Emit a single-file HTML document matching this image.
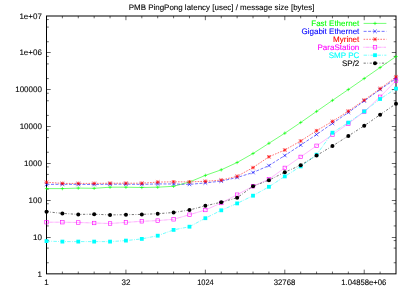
<!DOCTYPE html>
<html><head><meta charset="utf-8"><title>PMB PingPong latency</title>
<style>
html,body{margin:0;padding:0;background:#fff;}
body{width:409px;height:286px;overflow:hidden;}
svg{display:block;}
text{font-family:"Liberation Sans",sans-serif;font-size:8.0px;fill:#000;stroke:#000;stroke-width:0.1px;text-rendering:geometricPrecision;}
</style></head><body>
<svg width="409" height="286" viewBox="0 0 409 286">
<defs><filter id="gs" x="0" y="0" width="409" height="286" filterUnits="userSpaceOnUse"><feOffset dx="0" dy="0"/></filter></defs>
<rect x="0" y="0" width="409" height="286" fill="#fff"/>

<rect x="46.5" y="16.0" width="349.50" height="257.85" fill="none" stroke="#000" stroke-width="1"/>
<path d="M62.39 273.85v-2.3M62.39 16.0v2.3M78.27 273.85v-2.3M78.27 16.0v2.3M94.16 273.85v-2.3M94.16 16.0v2.3M110.05 273.85v-2.3M110.05 16.0v2.3M125.93 273.85v-4.2M125.93 16.0v4.2M141.82 273.85v-2.3M141.82 16.0v2.3M157.70 273.85v-2.3M157.70 16.0v2.3M173.59 273.85v-2.3M173.59 16.0v2.3M189.48 273.85v-2.3M189.48 16.0v2.3M205.36 273.85v-4.2M205.36 16.0v4.2M221.25 273.85v-2.3M221.25 16.0v2.3M237.14 273.85v-2.3M237.14 16.0v2.3M253.02 273.85v-2.3M253.02 16.0v2.3M268.91 273.85v-2.3M268.91 16.0v2.3M284.80 273.85v-4.2M284.80 16.0v4.2M300.68 273.85v-2.3M300.68 16.0v2.3M316.57 273.85v-2.3M316.57 16.0v2.3M332.45 273.85v-2.3M332.45 16.0v2.3M348.34 273.85v-2.3M348.34 16.0v2.3M364.23 273.85v-4.2M364.23 16.0v4.2M380.11 273.85v-2.3M380.11 16.0v2.3M46.5 262.76h2.3M396.0 262.76h-2.3M46.5 248.10h2.3M396.0 248.10h-2.3M46.5 240.58h2.3M396.0 240.58h-2.3M46.5 237.50h4.2M396.0 237.50h-4.2M46.5 225.93h2.3M396.0 225.93h-2.3M46.5 211.27h2.3M396.0 211.27h-2.3M46.5 203.75h2.3M396.0 203.75h-2.3M46.5 200.50h4.2M396.0 200.50h-4.2M46.5 189.09h2.3M396.0 189.09h-2.3M46.5 174.43h2.3M396.0 174.43h-2.3M46.5 166.91h2.3M396.0 166.91h-2.3M46.5 163.50h4.2M396.0 163.50h-4.2M46.5 152.25h2.3M396.0 152.25h-2.3M46.5 137.60h2.3M396.0 137.60h-2.3M46.5 130.08h2.3M396.0 130.08h-2.3M46.5 126.50h4.2M396.0 126.50h-4.2M46.5 115.42h2.3M396.0 115.42h-2.3M46.5 100.76h2.3M396.0 100.76h-2.3M46.5 93.24h2.3M396.0 93.24h-2.3M46.5 89.50h4.2M396.0 89.50h-4.2M46.5 78.58h2.3M396.0 78.58h-2.3M46.5 63.92h2.3M396.0 63.92h-2.3M46.5 56.41h2.3M396.0 56.41h-2.3M46.5 52.50h4.2M396.0 52.50h-4.2M46.5 41.75h2.3M396.0 41.75h-2.3M46.5 27.09h2.3M396.0 27.09h-2.3M46.5 19.57h2.3M396.0 19.57h-2.3" stroke="#000" stroke-width="0.6" fill="none"/>
<polyline points="46.50,188.60 62.39,188.60 78.27,188.10 94.16,188.30 110.05,187.20 125.93,187.20 141.82,187.50 157.70,187.20 173.59,186.30 189.48,182.00 205.36,175.40 221.25,169.80 237.14,162.50 253.02,153.50 268.91,143.30 284.80,133.20 300.68,122.50 316.57,111.40 332.45,100.40 348.34,89.50 364.23,78.50 380.11,67.50 396.00,56.50" fill="none" stroke="#00ff00" stroke-width="0.55"/>
<path d="M44.80 188.60H48.20M46.50 186.90V190.30" stroke="#00ff00" stroke-width="0.6" fill="none"/>
<path d="M60.69 188.60H64.09M62.39 186.90V190.30" stroke="#00ff00" stroke-width="0.6" fill="none"/>
<path d="M76.57 188.10H79.97M78.27 186.40V189.80" stroke="#00ff00" stroke-width="0.6" fill="none"/>
<path d="M92.46 188.30H95.86M94.16 186.60V190.00" stroke="#00ff00" stroke-width="0.6" fill="none"/>
<path d="M108.35 187.20H111.75M110.05 185.50V188.90" stroke="#00ff00" stroke-width="0.6" fill="none"/>
<path d="M124.23 187.20H127.63M125.93 185.50V188.90" stroke="#00ff00" stroke-width="0.6" fill="none"/>
<path d="M140.12 187.50H143.52M141.82 185.80V189.20" stroke="#00ff00" stroke-width="0.6" fill="none"/>
<path d="M156.00 187.20H159.40M157.70 185.50V188.90" stroke="#00ff00" stroke-width="0.6" fill="none"/>
<path d="M171.89 186.30H175.29M173.59 184.60V188.00" stroke="#00ff00" stroke-width="0.6" fill="none"/>
<path d="M187.78 182.00H191.18M189.48 180.30V183.70" stroke="#00ff00" stroke-width="0.6" fill="none"/>
<path d="M203.66 175.40H207.06M205.36 173.70V177.10" stroke="#00ff00" stroke-width="0.6" fill="none"/>
<path d="M219.55 169.80H222.95M221.25 168.10V171.50" stroke="#00ff00" stroke-width="0.6" fill="none"/>
<path d="M235.44 162.50H238.84M237.14 160.80V164.20" stroke="#00ff00" stroke-width="0.6" fill="none"/>
<path d="M251.32 153.50H254.72M253.02 151.80V155.20" stroke="#00ff00" stroke-width="0.6" fill="none"/>
<path d="M267.21 143.30H270.61M268.91 141.60V145.00" stroke="#00ff00" stroke-width="0.6" fill="none"/>
<path d="M283.10 133.20H286.50M284.80 131.50V134.90" stroke="#00ff00" stroke-width="0.6" fill="none"/>
<path d="M298.98 122.50H302.38M300.68 120.80V124.20" stroke="#00ff00" stroke-width="0.6" fill="none"/>
<path d="M314.87 111.40H318.27M316.57 109.70V113.10" stroke="#00ff00" stroke-width="0.6" fill="none"/>
<path d="M330.75 100.40H334.15M332.45 98.70V102.10" stroke="#00ff00" stroke-width="0.6" fill="none"/>
<path d="M346.64 89.50H350.04M348.34 87.80V91.20" stroke="#00ff00" stroke-width="0.6" fill="none"/>
<path d="M362.53 78.50H365.93M364.23 76.80V80.20" stroke="#00ff00" stroke-width="0.6" fill="none"/>
<path d="M378.41 67.50H381.81M380.11 65.80V69.20" stroke="#00ff00" stroke-width="0.6" fill="none"/>
<path d="M394.30 56.50H397.70M396.00 54.80V58.20" stroke="#00ff00" stroke-width="0.6" fill="none"/>
<polyline points="46.50,184.40 62.39,184.30 78.27,184.40 94.16,184.50 110.05,184.20 125.93,184.20 141.82,184.40 157.70,183.90 173.59,184.00 189.48,184.40 205.36,182.90 221.25,181.10 237.14,177.50 253.02,172.50 268.91,165.60 284.80,155.50 300.68,145.10 316.57,134.50 332.45,123.40 348.34,112.50 364.23,101.00 380.11,89.50 396.00,78.50" fill="none" stroke="#0000ff" stroke-width="0.55" stroke-dasharray="3 1.5"/>
<path d="M44.70 182.60L48.30 186.20M44.70 186.20L48.30 182.60" stroke="#0000ff" stroke-width="0.6" fill="none"/>
<path d="M60.59 182.50L64.19 186.10M60.59 186.10L64.19 182.50" stroke="#0000ff" stroke-width="0.6" fill="none"/>
<path d="M76.47 182.60L80.07 186.20M76.47 186.20L80.07 182.60" stroke="#0000ff" stroke-width="0.6" fill="none"/>
<path d="M92.36 182.70L95.96 186.30M92.36 186.30L95.96 182.70" stroke="#0000ff" stroke-width="0.6" fill="none"/>
<path d="M108.25 182.40L111.85 186.00M108.25 186.00L111.85 182.40" stroke="#0000ff" stroke-width="0.6" fill="none"/>
<path d="M124.13 182.40L127.73 186.00M124.13 186.00L127.73 182.40" stroke="#0000ff" stroke-width="0.6" fill="none"/>
<path d="M140.02 182.60L143.62 186.20M140.02 186.20L143.62 182.60" stroke="#0000ff" stroke-width="0.6" fill="none"/>
<path d="M155.90 182.10L159.50 185.70M155.90 185.70L159.50 182.10" stroke="#0000ff" stroke-width="0.6" fill="none"/>
<path d="M171.79 182.20L175.39 185.80M171.79 185.80L175.39 182.20" stroke="#0000ff" stroke-width="0.6" fill="none"/>
<path d="M187.68 182.60L191.28 186.20M187.68 186.20L191.28 182.60" stroke="#0000ff" stroke-width="0.6" fill="none"/>
<path d="M203.56 181.10L207.16 184.70M203.56 184.70L207.16 181.10" stroke="#0000ff" stroke-width="0.6" fill="none"/>
<path d="M219.45 179.30L223.05 182.90M219.45 182.90L223.05 179.30" stroke="#0000ff" stroke-width="0.6" fill="none"/>
<path d="M235.34 175.70L238.94 179.30M235.34 179.30L238.94 175.70" stroke="#0000ff" stroke-width="0.6" fill="none"/>
<path d="M251.22 170.70L254.82 174.30M251.22 174.30L254.82 170.70" stroke="#0000ff" stroke-width="0.6" fill="none"/>
<path d="M267.11 163.80L270.71 167.40M267.11 167.40L270.71 163.80" stroke="#0000ff" stroke-width="0.6" fill="none"/>
<path d="M283.00 153.70L286.60 157.30M283.00 157.30L286.60 153.70" stroke="#0000ff" stroke-width="0.6" fill="none"/>
<path d="M298.88 143.30L302.48 146.90M298.88 146.90L302.48 143.30" stroke="#0000ff" stroke-width="0.6" fill="none"/>
<path d="M314.77 132.70L318.37 136.30M314.77 136.30L318.37 132.70" stroke="#0000ff" stroke-width="0.6" fill="none"/>
<path d="M330.65 121.60L334.25 125.20M330.65 125.20L334.25 121.60" stroke="#0000ff" stroke-width="0.6" fill="none"/>
<path d="M346.54 110.70L350.14 114.30M346.54 114.30L350.14 110.70" stroke="#0000ff" stroke-width="0.6" fill="none"/>
<path d="M362.43 99.20L366.03 102.80M362.43 102.80L366.03 99.20" stroke="#0000ff" stroke-width="0.6" fill="none"/>
<path d="M378.31 87.70L381.91 91.30M378.31 91.30L381.91 87.70" stroke="#0000ff" stroke-width="0.6" fill="none"/>
<path d="M394.20 76.70L397.80 80.30M394.20 80.30L397.80 76.70" stroke="#0000ff" stroke-width="0.6" fill="none"/>
<polyline points="46.50,182.20 62.39,183.40 78.27,183.40 94.16,183.40 110.05,183.20 125.93,183.20 141.82,183.20 157.70,182.10 173.59,181.80 189.48,181.90 205.36,181.30 221.25,180.10 237.14,176.30 253.02,167.60 268.91,156.80 284.80,150.00 300.68,141.00 316.57,130.70 332.45,121.40 348.34,111.10 364.23,100.10 380.11,88.60 396.00,76.90" fill="none" stroke="#ff0000" stroke-width="0.55" stroke-dasharray="1.6 1.2"/>
<path d="M44.70 180.40L48.30 184.00M44.70 184.00L48.30 180.40M44.70 182.20H48.30M46.50 180.40V184.00" stroke="#ff0000" stroke-width="0.6" fill="none"/>
<path d="M60.59 181.60L64.19 185.20M60.59 185.20L64.19 181.60M60.59 183.40H64.19M62.39 181.60V185.20" stroke="#ff0000" stroke-width="0.6" fill="none"/>
<path d="M76.47 181.60L80.07 185.20M76.47 185.20L80.07 181.60M76.47 183.40H80.07M78.27 181.60V185.20" stroke="#ff0000" stroke-width="0.6" fill="none"/>
<path d="M92.36 181.60L95.96 185.20M92.36 185.20L95.96 181.60M92.36 183.40H95.96M94.16 181.60V185.20" stroke="#ff0000" stroke-width="0.6" fill="none"/>
<path d="M108.25 181.40L111.85 185.00M108.25 185.00L111.85 181.40M108.25 183.20H111.85M110.05 181.40V185.00" stroke="#ff0000" stroke-width="0.6" fill="none"/>
<path d="M124.13 181.40L127.73 185.00M124.13 185.00L127.73 181.40M124.13 183.20H127.73M125.93 181.40V185.00" stroke="#ff0000" stroke-width="0.6" fill="none"/>
<path d="M140.02 181.40L143.62 185.00M140.02 185.00L143.62 181.40M140.02 183.20H143.62M141.82 181.40V185.00" stroke="#ff0000" stroke-width="0.6" fill="none"/>
<path d="M155.90 180.30L159.50 183.90M155.90 183.90L159.50 180.30M155.90 182.10H159.50M157.70 180.30V183.90" stroke="#ff0000" stroke-width="0.6" fill="none"/>
<path d="M171.79 180.00L175.39 183.60M171.79 183.60L175.39 180.00M171.79 181.80H175.39M173.59 180.00V183.60" stroke="#ff0000" stroke-width="0.6" fill="none"/>
<path d="M187.68 180.10L191.28 183.70M187.68 183.70L191.28 180.10M187.68 181.90H191.28M189.48 180.10V183.70" stroke="#ff0000" stroke-width="0.6" fill="none"/>
<path d="M203.56 179.50L207.16 183.10M203.56 183.10L207.16 179.50M203.56 181.30H207.16M205.36 179.50V183.10" stroke="#ff0000" stroke-width="0.6" fill="none"/>
<path d="M219.45 178.30L223.05 181.90M219.45 181.90L223.05 178.30M219.45 180.10H223.05M221.25 178.30V181.90" stroke="#ff0000" stroke-width="0.6" fill="none"/>
<path d="M235.34 174.50L238.94 178.10M235.34 178.10L238.94 174.50M235.34 176.30H238.94M237.14 174.50V178.10" stroke="#ff0000" stroke-width="0.6" fill="none"/>
<path d="M251.22 165.80L254.82 169.40M251.22 169.40L254.82 165.80M251.22 167.60H254.82M253.02 165.80V169.40" stroke="#ff0000" stroke-width="0.6" fill="none"/>
<path d="M267.11 155.00L270.71 158.60M267.11 158.60L270.71 155.00M267.11 156.80H270.71M268.91 155.00V158.60" stroke="#ff0000" stroke-width="0.6" fill="none"/>
<path d="M283.00 148.20L286.60 151.80M283.00 151.80L286.60 148.20M283.00 150.00H286.60M284.80 148.20V151.80" stroke="#ff0000" stroke-width="0.6" fill="none"/>
<path d="M298.88 139.20L302.48 142.80M298.88 142.80L302.48 139.20M298.88 141.00H302.48M300.68 139.20V142.80" stroke="#ff0000" stroke-width="0.6" fill="none"/>
<path d="M314.77 128.90L318.37 132.50M314.77 132.50L318.37 128.90M314.77 130.70H318.37M316.57 128.90V132.50" stroke="#ff0000" stroke-width="0.6" fill="none"/>
<path d="M330.65 119.60L334.25 123.20M330.65 123.20L334.25 119.60M330.65 121.40H334.25M332.45 119.60V123.20" stroke="#ff0000" stroke-width="0.6" fill="none"/>
<path d="M346.54 109.30L350.14 112.90M346.54 112.90L350.14 109.30M346.54 111.10H350.14M348.34 109.30V112.90" stroke="#ff0000" stroke-width="0.6" fill="none"/>
<path d="M362.43 98.30L366.03 101.90M362.43 101.90L366.03 98.30M362.43 100.10H366.03M364.23 98.30V101.90" stroke="#ff0000" stroke-width="0.6" fill="none"/>
<path d="M378.31 86.80L381.91 90.40M378.31 90.40L381.91 86.80M378.31 88.60H381.91M380.11 86.80V90.40" stroke="#ff0000" stroke-width="0.6" fill="none"/>
<path d="M394.20 75.10L397.80 78.70M394.20 78.70L397.80 75.10M394.20 76.90H397.80M396.00 75.10V78.70" stroke="#ff0000" stroke-width="0.6" fill="none"/>
<polyline points="46.50,222.20 62.39,222.20 78.27,222.50 94.16,223.00 110.05,223.50 125.93,222.40 141.82,221.30 157.70,220.60 173.59,219.30 189.48,214.70 205.36,210.00 221.25,203.00 237.14,194.70 253.02,186.20 268.91,179.30 284.80,167.90 300.68,156.90 316.57,145.80 332.45,134.80 348.34,123.60 364.23,111.70 380.11,96.80 396.00,80.70" fill="none" stroke="#ff00ff" stroke-width="0.55" stroke-dasharray="0.6 0.6"/>
<rect x="44.75" y="220.45" width="3.50" height="3.50" stroke="#ff00ff" stroke-width="0.6" fill="none"/>
<rect x="60.64" y="220.45" width="3.50" height="3.50" stroke="#ff00ff" stroke-width="0.6" fill="none"/>
<rect x="76.52" y="220.75" width="3.50" height="3.50" stroke="#ff00ff" stroke-width="0.6" fill="none"/>
<rect x="92.41" y="221.25" width="3.50" height="3.50" stroke="#ff00ff" stroke-width="0.6" fill="none"/>
<rect x="108.30" y="221.75" width="3.50" height="3.50" stroke="#ff00ff" stroke-width="0.6" fill="none"/>
<rect x="124.18" y="220.65" width="3.50" height="3.50" stroke="#ff00ff" stroke-width="0.6" fill="none"/>
<rect x="140.07" y="219.55" width="3.50" height="3.50" stroke="#ff00ff" stroke-width="0.6" fill="none"/>
<rect x="155.95" y="218.85" width="3.50" height="3.50" stroke="#ff00ff" stroke-width="0.6" fill="none"/>
<rect x="171.84" y="217.55" width="3.50" height="3.50" stroke="#ff00ff" stroke-width="0.6" fill="none"/>
<rect x="187.73" y="212.95" width="3.50" height="3.50" stroke="#ff00ff" stroke-width="0.6" fill="none"/>
<rect x="203.61" y="208.25" width="3.50" height="3.50" stroke="#ff00ff" stroke-width="0.6" fill="none"/>
<rect x="219.50" y="201.25" width="3.50" height="3.50" stroke="#ff00ff" stroke-width="0.6" fill="none"/>
<rect x="235.39" y="192.95" width="3.50" height="3.50" stroke="#ff00ff" stroke-width="0.6" fill="none"/>
<rect x="251.27" y="184.45" width="3.50" height="3.50" stroke="#ff00ff" stroke-width="0.6" fill="none"/>
<rect x="267.16" y="177.55" width="3.50" height="3.50" stroke="#ff00ff" stroke-width="0.6" fill="none"/>
<rect x="283.05" y="166.15" width="3.50" height="3.50" stroke="#ff00ff" stroke-width="0.6" fill="none"/>
<rect x="298.93" y="155.15" width="3.50" height="3.50" stroke="#ff00ff" stroke-width="0.6" fill="none"/>
<rect x="314.82" y="144.05" width="3.50" height="3.50" stroke="#ff00ff" stroke-width="0.6" fill="none"/>
<rect x="330.70" y="133.05" width="3.50" height="3.50" stroke="#ff00ff" stroke-width="0.6" fill="none"/>
<rect x="346.59" y="121.85" width="3.50" height="3.50" stroke="#ff00ff" stroke-width="0.6" fill="none"/>
<rect x="362.48" y="109.95" width="3.50" height="3.50" stroke="#ff00ff" stroke-width="0.6" fill="none"/>
<rect x="378.36" y="95.05" width="3.50" height="3.50" stroke="#ff00ff" stroke-width="0.6" fill="none"/>
<rect x="394.25" y="78.95" width="3.50" height="3.50" stroke="#ff00ff" stroke-width="0.6" fill="none"/>
<polyline points="46.50,241.10 62.39,241.60 78.27,241.60 94.16,241.60 110.05,241.60 125.93,240.60 141.82,238.90 157.70,235.70 173.59,229.90 189.48,226.70 205.36,218.20 221.25,210.30 237.14,203.40 253.02,195.70 268.91,186.80 284.80,176.40 300.68,166.40 316.57,154.70 332.45,132.70 348.34,122.60 364.23,111.40 380.11,99.00 396.00,88.60" fill="none" stroke="#00ffff" stroke-width="0.55" stroke-dasharray="3.5 1.3 0.8 1.3"/>
<rect x="44.60" y="239.20" width="3.80" height="3.80" fill="#00ffff"/>
<rect x="60.49" y="239.70" width="3.80" height="3.80" fill="#00ffff"/>
<rect x="76.37" y="239.70" width="3.80" height="3.80" fill="#00ffff"/>
<rect x="92.26" y="239.70" width="3.80" height="3.80" fill="#00ffff"/>
<rect x="108.15" y="239.70" width="3.80" height="3.80" fill="#00ffff"/>
<rect x="124.03" y="238.70" width="3.80" height="3.80" fill="#00ffff"/>
<rect x="139.92" y="237.00" width="3.80" height="3.80" fill="#00ffff"/>
<rect x="155.80" y="233.80" width="3.80" height="3.80" fill="#00ffff"/>
<rect x="171.69" y="228.00" width="3.80" height="3.80" fill="#00ffff"/>
<rect x="187.58" y="224.80" width="3.80" height="3.80" fill="#00ffff"/>
<rect x="203.46" y="216.30" width="3.80" height="3.80" fill="#00ffff"/>
<rect x="219.35" y="208.40" width="3.80" height="3.80" fill="#00ffff"/>
<rect x="235.24" y="201.50" width="3.80" height="3.80" fill="#00ffff"/>
<rect x="251.12" y="193.80" width="3.80" height="3.80" fill="#00ffff"/>
<rect x="267.01" y="184.90" width="3.80" height="3.80" fill="#00ffff"/>
<rect x="282.90" y="174.50" width="3.80" height="3.80" fill="#00ffff"/>
<rect x="298.78" y="164.50" width="3.80" height="3.80" fill="#00ffff"/>
<rect x="314.67" y="152.80" width="3.80" height="3.80" fill="#00ffff"/>
<rect x="330.55" y="130.80" width="3.80" height="3.80" fill="#00ffff"/>
<rect x="346.44" y="120.70" width="3.80" height="3.80" fill="#00ffff"/>
<rect x="362.33" y="109.50" width="3.80" height="3.80" fill="#00ffff"/>
<rect x="378.21" y="97.10" width="3.80" height="3.80" fill="#00ffff"/>
<rect x="394.10" y="86.70" width="3.80" height="3.80" fill="#00ffff"/>
<polyline points="46.50,211.70 62.39,213.40 78.27,214.40 94.16,214.20 110.05,214.90 125.93,214.70 141.82,214.40 157.70,213.70 173.59,212.50 189.48,210.00 205.36,205.80 221.25,202.20 237.14,197.80 253.02,186.20 268.91,180.20 284.80,172.20 300.68,165.20 316.57,155.50 332.45,146.00 348.34,135.90 364.23,125.80 380.11,114.70 396.00,103.70" fill="none" stroke="#000000" stroke-width="0.55" stroke-dasharray="2.2 1.6 0.7 1.6"/>
<circle cx="46.50" cy="211.70" r="2.0" fill="#000000"/>
<circle cx="62.39" cy="213.40" r="2.0" fill="#000000"/>
<circle cx="78.27" cy="214.40" r="2.0" fill="#000000"/>
<circle cx="94.16" cy="214.20" r="2.0" fill="#000000"/>
<circle cx="110.05" cy="214.90" r="2.0" fill="#000000"/>
<circle cx="125.93" cy="214.70" r="2.0" fill="#000000"/>
<circle cx="141.82" cy="214.40" r="2.0" fill="#000000"/>
<circle cx="157.70" cy="213.70" r="2.0" fill="#000000"/>
<circle cx="173.59" cy="212.50" r="2.0" fill="#000000"/>
<circle cx="189.48" cy="210.00" r="2.0" fill="#000000"/>
<circle cx="205.36" cy="205.80" r="2.0" fill="#000000"/>
<circle cx="221.25" cy="202.20" r="2.0" fill="#000000"/>
<circle cx="237.14" cy="197.80" r="2.0" fill="#000000"/>
<circle cx="253.02" cy="186.20" r="2.0" fill="#000000"/>
<circle cx="268.91" cy="180.20" r="2.0" fill="#000000"/>
<circle cx="284.80" cy="172.20" r="2.0" fill="#000000"/>
<circle cx="300.68" cy="165.20" r="2.0" fill="#000000"/>
<circle cx="316.57" cy="155.50" r="2.0" fill="#000000"/>
<circle cx="332.45" cy="146.00" r="2.0" fill="#000000"/>
<circle cx="348.34" cy="135.90" r="2.0" fill="#000000"/>
<circle cx="364.23" cy="125.80" r="2.0" fill="#000000"/>
<circle cx="380.11" cy="114.70" r="2.0" fill="#000000"/>
<circle cx="396.00" cy="103.70" r="2.0" fill="#000000"/>
<g filter="url(#gs)">
<text x="41.9" y="276.50" text-anchor="end">1</text>
<text x="41.9" y="239.66" text-anchor="end">10</text>
<text x="41.9" y="202.83" text-anchor="end">100</text>
<text x="41.9" y="165.99" text-anchor="end">1000</text>
<text x="41.9" y="129.16" text-anchor="end">10000</text>
<text x="41.9" y="92.32" text-anchor="end">100000</text>
<text x="41.9" y="55.49" text-anchor="end">1e+06</text>
<text x="41.9" y="18.65" text-anchor="end">1e+07</text>
<text x="46.60" y="284.65" text-anchor="middle">1</text>
<text x="126.05" y="284.65" text-anchor="middle">32</text>
<text x="205.45" y="284.65" text-anchor="middle" textLength="16.55" lengthAdjust="spacingAndGlyphs">1024</text>
<text x="284.50" y="284.65" text-anchor="middle" textLength="21.5" lengthAdjust="spacingAndGlyphs">32768</text>
<text x="363.80" y="284.65" text-anchor="middle" textLength="45.1" lengthAdjust="spacingAndGlyphs">1.04858e+06</text>
<text x="221.55" y="10.3" text-anchor="middle" textLength="185.6" lengthAdjust="spacingAndGlyphs">PMB PingPong latency [usec] / message size [bytes]</text>
</g>
<g filter="url(#gs)"><text x="359.3" y="26.20" text-anchor="end" style="fill:#00ff00;stroke:#00ff00">Fast Ethernet</text></g>
<path d="M363.6 23.40H386.4" stroke="#00ff00" stroke-width="0.55" fill="none"/>
<path d="M373.30 23.40H376.70M375.00 21.70V25.10" stroke="#00ff00" stroke-width="0.6" fill="none"/>
<g filter="url(#gs)"><text x="359.3" y="34.15" text-anchor="end" style="fill:#0000ff;stroke:#0000ff">Gigabit Ethernet</text></g>
<path d="M363.6 31.35H386.4" stroke="#0000ff" stroke-width="0.55" fill="none" stroke-dasharray="3 1.5"/>
<path d="M373.20 29.55L376.80 33.15M373.20 33.15L376.80 29.55" stroke="#0000ff" stroke-width="0.6" fill="none"/>
<g filter="url(#gs)"><text x="359.3" y="42.10" text-anchor="end" style="fill:#ff0000;stroke:#ff0000">Myrinet</text></g>
<path d="M363.6 39.30H386.4" stroke="#ff0000" stroke-width="0.55" fill="none" stroke-dasharray="1.6 1.2"/>
<path d="M373.20 37.50L376.80 41.10M373.20 41.10L376.80 37.50M373.20 39.30H376.80M375.00 37.50V41.10" stroke="#ff0000" stroke-width="0.6" fill="none"/>
<g filter="url(#gs)"><text x="359.3" y="50.05" text-anchor="end" style="fill:#ff00ff;stroke:#ff00ff">ParaStation</text></g>
<path d="M363.6 47.25H386.4" stroke="#ff00ff" stroke-width="0.55" fill="none" stroke-dasharray="0.6 0.6"/>
<rect x="373.25" y="45.50" width="3.50" height="3.50" stroke="#ff00ff" stroke-width="0.6" fill="none"/>
<g filter="url(#gs)"><text x="359.3" y="58.00" text-anchor="end" style="fill:#00ffff;stroke:#00ffff">SMP PC</text></g>
<path d="M363.6 55.20H386.4" stroke="#00ffff" stroke-width="0.55" fill="none" stroke-dasharray="3.5 1.3 0.8 1.3"/>
<rect x="373.10" y="53.30" width="3.80" height="3.80" fill="#00ffff"/>
<g filter="url(#gs)"><text x="359.3" y="65.95" text-anchor="end" style="fill:#000000;stroke:#000000">SP/2</text></g>
<path d="M363.6 63.15H386.4" stroke="#000000" stroke-width="0.55" fill="none" stroke-dasharray="2.2 1.6 0.7 1.6"/>
<circle cx="375.00" cy="63.15" r="2.0" fill="#000000"/>
</svg></body></html>
